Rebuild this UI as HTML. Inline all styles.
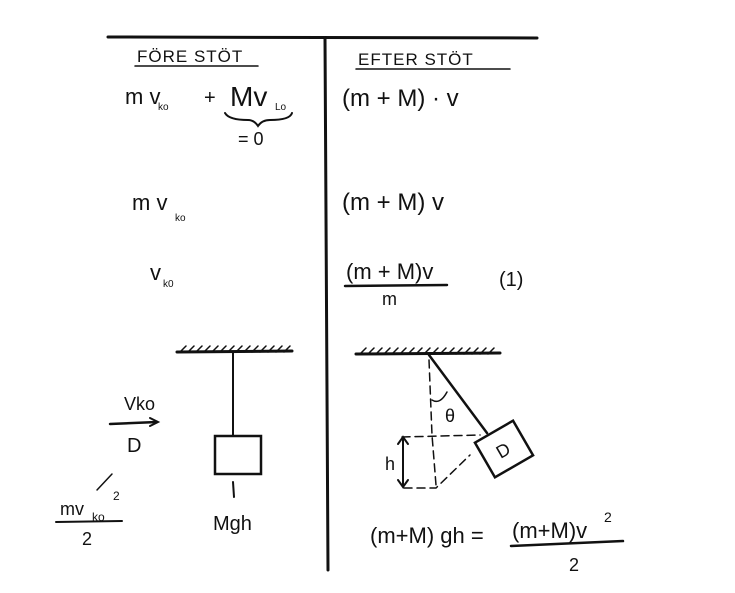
<!DOCTYPE html>
<html><head><style>body{margin:0;background:#fff}svg{display:block}text{font-family:"Liberation Sans",sans-serif;fill:#111}</style></head>
<body>
<svg width="735" height="593" viewBox="0 0 735 593" stroke="#111" fill="none" stroke-linecap="round">
<path d="M108 37 L537 38" stroke-width="3"/>
<path d="M325 38 L328 570" stroke-width="3"/>
<g stroke="none">
<text x="137" y="62" font-size="17" letter-spacing="1">FÖRE STÖT</text>
<text x="358" y="65" font-size="17" letter-spacing="1">EFTER STÖT</text>
<text x="125" y="104" font-size="22">m v</text><text x="158" y="110" font-size="10">ko</text>
<text x="204" y="104" font-size="20">+</text>
<text x="230" y="106" font-size="28">Mv</text><text x="275" y="110" font-size="10">Lo</text>
<text x="238" y="145" font-size="18">= 0</text>
<text x="342" y="106" font-size="24">(m + M) · v</text>
<text x="132" y="210" font-size="22">m v</text><text x="175" y="221" font-size="10">ko</text>
<text x="342" y="210" font-size="24">(m  + M) v</text>
<text x="150" y="280" font-size="22">v</text><text x="163" y="287" font-size="10">k0</text>
<text x="346" y="279" font-size="22">(m + M)v</text>
<text x="382" y="305" font-size="18">m</text>
<text x="499" y="286" font-size="20">(1)</text>
<text x="124" y="410" font-size="18">Vko</text>
<text x="127" y="452" font-size="20">D</text>
<text x="60" y="515" font-size="18">mv</text><text x="92" y="521" font-size="12">ko</text><text x="113" y="500" font-size="12">2</text>
<text x="82" y="545" font-size="18">2</text>
<text x="213" y="530" font-size="20">Mgh</text>
<text x="445" y="422" font-size="18">θ</text>
<text x="385" y="470" font-size="18">h</text>
<text x="370" y="543" font-size="22">(m+M) gh =</text>
<text x="512" y="538" font-size="22">(m+M)v</text><text x="604" y="522" font-size="14">2</text>
<text x="569" y="571" font-size="18">2</text>
</g>
<path d="M345 286 L447 285" stroke-width="2.5"/>
<path d="M511 546 L623 541" stroke-width="2.5"/>
<path d="M56 522 L122 521" stroke-width="2"/>
<path d="M225 113 Q229 120 248 120 Q254 120 258 126 Q262 120 270 120 Q290 120 292 113" stroke-width="2"/>
<path d="M135 66 L258 66 M356 69 L510 69" stroke-width="1.5"/>
<path d="M177 352 L292 351" stroke-width="3"/>
<path d="M180 352 l6 -6 M188 352 l6 -6 M196 352 l6 -6 M204 352 l6 -6 M212 352 l6 -6 M220 352 l6 -6 M228 352 l6 -6 M236 352 l6 -6 M244 352 l6 -6 M252 352 l6 -6 M260 352 l6 -6 M268 352 l6 -6 M276 352 l6 -6 M284 352 l6 -6" stroke-width="1.5"/>
<path d="M233 352 L233 436" stroke-width="2"/>
<rect x="215" y="436" width="46" height="38" stroke-width="2.5"/>
<path d="M233 482 L234 497" stroke-width="2"/>
<path d="M110 424 L157 422" stroke-width="2.5"/>
<path d="M150 418 L158 422 L150 426" stroke-width="2"/>
<path d="M112 474 L97 490" stroke-width="1.5"/>
<path d="M356 354 L500 353" stroke-width="3"/>
<path d="M360 354 l6 -6 M368 354 l6 -6 M376 354 l6 -6 M384 354 l6 -6 M392 354 l6 -6 M400 354 l6 -6 M408 354 l6 -6 M416 354 l6 -6 M424 354 l6 -6 M432 354 l6 -6 M440 354 l6 -6 M448 354 l6 -6 M456 354 l6 -6 M464 354 l6 -6 M472 354 l6 -6 M480 354 l6 -6 M488 354 l6 -6" stroke-width="1.5"/>
<path d="M429 355 L487 433" stroke-width="2.5"/>
<path d="M429 360 L432 435 L436 485" stroke-width="1.5" stroke-dasharray="8,5"/>
<path d="M402 437 L480 435 M404 488 L436 488 L470 455" stroke-width="1.5" stroke-dasharray="8,5"/>
<path d="M432 400 Q440 405 447 392" stroke-width="1.5"/>
<path d="M403 438 L403 486 M398 444 L403 437 L408 444 M398 480 L403 487 L408 480" stroke-width="2"/>
<g transform="translate(504 449) rotate(-30)"><rect x="-22" y="-20" width="44" height="40" stroke-width="2.5"/><text x="-8" y="7" font-size="18" stroke="none" fill="#111">D</text></g>
</svg>
</body></html>
